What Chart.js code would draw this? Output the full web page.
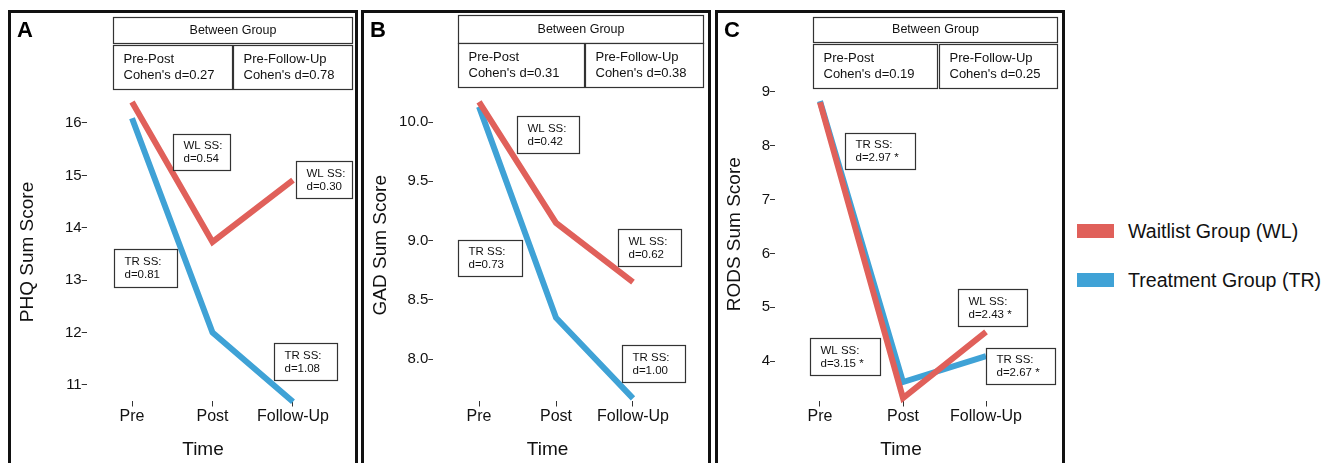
<!DOCTYPE html>
<html>
<head>
<meta charset="utf-8">
<script src="https://cdn.jsdelivr.net/npm/chart.js@4.4.1/dist/chart.umd.min.js"></script>
<style>
  html, body { margin: 0; padding: 0; background: #fff; width: 1323px; height: 463px; overflow: hidden; }
  .panel { position: absolute; top: 10px; width: 344px; height: 470px; border: 3px solid #111; }
  .panel canvas { position: absolute; left: 0; top: 0; }
  #legend { position: absolute; left: 1077px; top: 216px; font-family: "Liberation Sans", Arial, sans-serif; font-size: 19.6px; color: #111; }
  .item { display: flex; align-items: center; height: 30px; margin-bottom: 19px; white-space: nowrap; }
  .swatch { width: 37px; height: 14px; margin-right: 14px; }
</style>
</head>
<body>
<div class="panel" style="left:8px"><canvas id="phq" width="344" height="460"></canvas></div>
<div class="panel" style="left:361px"><canvas id="gad" width="344" height="460"></canvas></div>
<div class="panel" style="left:715px"><canvas id="rods" width="344" height="460"></canvas></div>
<div id="legend"></div>

<script>
// data
const timePoints = ['Pre', 'Post', 'Follow-Up'];
const groupNames = ['Waitlist Group (WL)', 'Treatment Group (TR)'];
const groupColors = ['#E0605A', '#3FA2D6'];

const phqWL = [16.40, 13.73, 14.91];
const phqTR = [16.09, 12.00, 10.68];
const gadWL = [10.17, 9.15, 8.65];
const gadTR = [10.13, 8.35, 7.67];
const rodsWL = [8.81, 3.31, 4.54];
const rodsTR = [8.83, 3.61, 4.09];

const phqTicks = [11, 12, 13, 14, 15, 16];
const gadTicks = [8.0, 8.5, 9.0, 9.5, 10.0];
const rodsTicks = [4, 5, 6, 7, 8, 9];

// Cohen's d: between group [pre-post, pre-follow-up], within group (SS) per group
const phqBetweenD = ['0.27', '0.78'];
const gadBetweenD = ['0.31', '0.38'];
const rodsBetweenD = ['0.19', '0.25'];
const phqWlD = ['0.54', '0.30'];
const phqTrD = ['0.81', '1.08'];
const gadWlD = ['0.42', '0.62'];
const gadTrD = ['0.73', '1.00'];
const rodsWlD = ['3.15 *', '2.43 *'];
const rodsTrD = ['2.97 *', '2.67 *'];

// layout (axis ranges, annotation boxes in data units)
const phqLayout = {
    yAxisW: 75.7, padRight: 16.7, padTop: 90.5,
    xRange: [-0.563, 2.563], yRange: [10.704, 16.372], titleX: 0.882,
    header: [[-0.236, 2.733], [18.02, 17.53]],
    prePost: [[-0.236, 1.242], [17.49, 16.65]],
    preFu: [[1.255, 2.733], [17.49, 16.65]],
    wlBoxes: [[[0.509, 1.217], [15.79, 15.10]], [[2.037, 2.733], [15.27, 14.57]]],
    trBoxes: [[[-0.224, 0.559], [13.60, 12.87]], [[1.764, 2.547], [11.80, 11.10]]]
};
const gadLayout = {
    yAxisW: 69.3, padRight: 29.3, padTop: 77,
    xRange: [-0.594, 2.594], yRange: [7.652, 10.270], titleX: 0.89,
    header: [[-0.273, 2.909], [10.902, 10.666]],
    prePost: [[-0.273, 1.364], [10.666, 10.295]],
    preFu: [[1.377, 2.909], [10.666, 10.295]],
    wlBoxes: [[[0.494, 1.299], [10.051, 9.739]], [[1.805, 2.623], [9.098, 8.786]]],
    trBoxes: [[[-0.273, 0.558], [9.005, 8.702]], [[1.857, 2.675], [8.120, 7.808]]]
};
const rodsLayout = {
    yAxisW: 57, padRight: 31, padTop: 55,
    xRange: [-0.542, 2.542], yRange: [3.266, 9.446], titleX: 0.976,
    header: [[-0.084, 2.855], [10.394, 9.929]],
    prePost: [[-0.084, 1.410], [9.892, 9.074]],
    preFu: [[1.434, 2.855], [9.892, 9.074]],
    wlBoxes: [[[-0.120, 0.723], [4.428, 3.740]], [[1.663, 2.494], [5.338, 4.651]]],
    trBoxes: [[[0.301, 1.145], [8.238, 7.569]], [[2.000, 2.831], [4.242, 3.572]]]
};

const FONT = '"Liberation Sans", Arial, sans-serif';
Chart.defaults.font.family = FONT;
Chart.defaults.color = '#111';

// legend
document.getElementById('legend').innerHTML = groupNames.map((name, i) =>
    '<div class="item"><div class="swatch" style="background:' + groupColors[i] + '"></div>' + name + '</div>'
).join('');

function makeBoxPlugin(letter, boxes, titleX) {
    return {
        id: 'boxes',
        afterDraw(chart) {
            const ctx = chart.ctx;
            const xs = chart.scales.x, ys = chart.scales.y;
            ctx.save();
            ctx.fillStyle = '#000';
            ctx.font = 'bold 22px ' + FONT;
            ctx.textBaseline = 'alphabetic';
            ctx.textAlign = 'left';
            ctx.fillText(letter, 6, 24);

            // x axis title (placed like the original, not centred on the panel)
            ctx.fillStyle = '#111';
            ctx.font = '19px ' + FONT;
            ctx.textAlign = 'center';
            ctx.textBaseline = 'middle';
            ctx.fillText('Time', xs.getPixelForValue(titleX), 437);

            boxes.forEach(b => {
                const x1 = Math.round(xs.getPixelForValue(b.pos[0][0])) + 0.5;
                const x2 = Math.round(xs.getPixelForValue(b.pos[0][1])) + 0.5;
                const y1 = Math.round(ys.getPixelForValue(b.pos[1][0])) + 0.5;
                const y2 = Math.round(ys.getPixelForValue(b.pos[1][1])) + 0.5;
                ctx.fillStyle = '#fff';
                ctx.fillRect(x1, y1, x2 - x1, y2 - y1);
                ctx.strokeStyle = '#333';
                ctx.lineWidth = 1.2;
                ctx.strokeRect(x1, y1, x2 - x1, y2 - y1);

                ctx.fillStyle = '#111';
                ctx.font = b.size + 'px ' + FONT;
                ctx.textBaseline = 'middle';
                const cy = (y1 + y2) / 2;
                const n = b.lines.length;
                b.lines.forEach((t, k) => {
                    const ty = cy + (k - (n - 1) / 2) * b.gap;
                    if (b.center) {
                        ctx.textAlign = 'center';
                        ctx.fillText(t, (x1 + x2) / 2, ty);
                    } else {
                        ctx.textAlign = 'left';
                        ctx.fillText(t, x1 + 10, ty);
                    }
                });
            });
            ctx.restore();
        }
    };
}

function renderPanel(canvasId, letter, yTitle, wl, tr, ticks, decimals, betweenD, wlD, trD, lay) {
    const canvas = document.getElementById(canvasId);
    const ctx = canvas.getContext('2d');

    const boxes = [
        { pos: lay.header, lines: ['Between Group'], center: true, size: 12.5, gap: 0 },
        { pos: lay.prePost, lines: ['Pre-Post', "Cohen's d=" + betweenD[0]], size: 13, gap: 16 },
        { pos: lay.preFu, lines: ['Pre-Follow-Up', "Cohen's d=" + betweenD[1]], size: 13, gap: 16 }
    ];
    wlD.forEach((d, i) => boxes.push({ pos: lay.wlBoxes[i], lines: ['WL SS:', 'd=' + d], size: 11.5, gap: 13 }));
    trD.forEach((d, i) => boxes.push({ pos: lay.trBoxes[i], lines: ['TR SS:', 'd=' + d], size: 11.5, gap: 13 }));

    const series = [wl, tr];

    canvas.chart = new Chart(ctx, {
        type: 'line',
        data: {
            datasets: series.map((vals, g) => ({
                label: groupNames[g],
                data: vals.map((v, i) => ({ x: i, y: v })),
                borderColor: groupColors[g],
                backgroundColor: groupColors[g],
                borderWidth: 6,
                borderJoinStyle: 'miter',
                borderCapStyle: 'butt',
                pointRadius: 0,
                tension: 0,
                clip: false
            }))
        },
        options: {
            responsive: false,
            animation: false,
            devicePixelRatio: 1,
            layout: { padding: { left: 0, top: lay.padTop, right: lay.padRight, bottom: 11.6 } },
            plugins: { legend: { display: false }, tooltip: { enabled: false } },
            scales: {
                x: {
                    type: 'linear',
                    min: lay.xRange[0],
                    max: lay.xRange[1],
                    afterBuildTicks: (s) => { s.ticks = timePoints.map((t, i) => ({ value: i })); },
                    afterFit: (s) => { s.height = 60.9; },
                    ticks: {
                        callback: (v) => timePoints[v],
                        font: { size: 16 },
                        color: '#111',
                        padding: 0,
                        maxRotation: 0,
                        autoSkip: false
                    },
                    grid: { drawOnChartArea: false, drawTicks: true, tickLength: 6, color: '#333', lineWidth: 1 },
                    border: { display: false },
                    title: { display: false }
                },
                y: {
                    min: lay.yRange[0],
                    max: lay.yRange[1],
                    afterBuildTicks: (s) => { s.ticks = ticks.map(v => ({ value: v })); },
                    afterFit: (s) => { s.width = lay.yAxisW; },
                    ticks: {
                        callback: (v) => v.toFixed(decimals),
                        font: { size: 15 },
                        color: '#111',
                        padding: 0
                    },
                    grid: { drawOnChartArea: false, drawTicks: true, tickLength: 5, color: '#333', lineWidth: 1 },
                    border: { display: false },
                    title: { display: true, text: yTitle, font: { size: 19 }, color: '#111', padding: { top: 5.5, bottom: 0 } }
                }
            }
        },
        plugins: [makeBoxPlugin(letter, boxes, lay.titleX)]
    });
}

renderPanel('phq', 'A', 'PHQ Sum Score', phqWL, phqTR, phqTicks, 0, phqBetweenD, phqWlD, phqTrD, phqLayout);
renderPanel('gad', 'B', 'GAD Sum Score', gadWL, gadTR, gadTicks, 1, gadBetweenD, gadWlD, gadTrD, gadLayout);
renderPanel('rods', 'C', 'RODS Sum Score', rodsWL, rodsTR, rodsTicks, 0, rodsBetweenD, rodsWlD, rodsTrD, rodsLayout);
</script>
</body>
</html>
